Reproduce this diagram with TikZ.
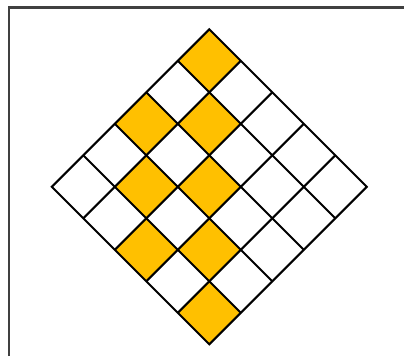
\documentclass[tikz,border=0pt]{standalone}
\usepackage{tikz}
\definecolor{cellgold}{HTML}{FFC000}
\tikzset{
  gridline/.style={line width=2pt, line join=miter},
  goldcell/.style={fill=cellgold},
  frameline/.style={line width=2.4pt, draw=black!75},
}
\begin{document}
\begin{tikzpicture}[x=1pt,y=1pt]
  \useasboundingbox (0,0) rectangle (404,356);
  % frame, only its top and left edges are in view
  \draw[frameline] (8.8,0) -- (8.8,348.4) -- (404,348.4);
  % 5x5 board turned by 45 deg, top corner at (209.3,326.7)
  \begin{scope}[shift={(209.3,326.7)}, rotate=-45, x=44.55pt, y=44.55pt]
    % gold cells (row/column, counted from the top corner)
    \foreach \i/\j in {0/0,1/1,2/2,3/3,4/4,2/0,3/1,4/2}
      \fill[goldcell] (\j,-\i) rectangle ++(1,-1);
    % grid lines
    \foreach \k in {1,...,4} {
      \draw[gridline] (\k,0) -- (\k,-5);
      \draw[gridline] (0,-\k) -- (5,-\k);
    }
    \draw[gridline] (0,0) rectangle (5,-5);
  \end{scope}
\end{tikzpicture}
\end{document}
